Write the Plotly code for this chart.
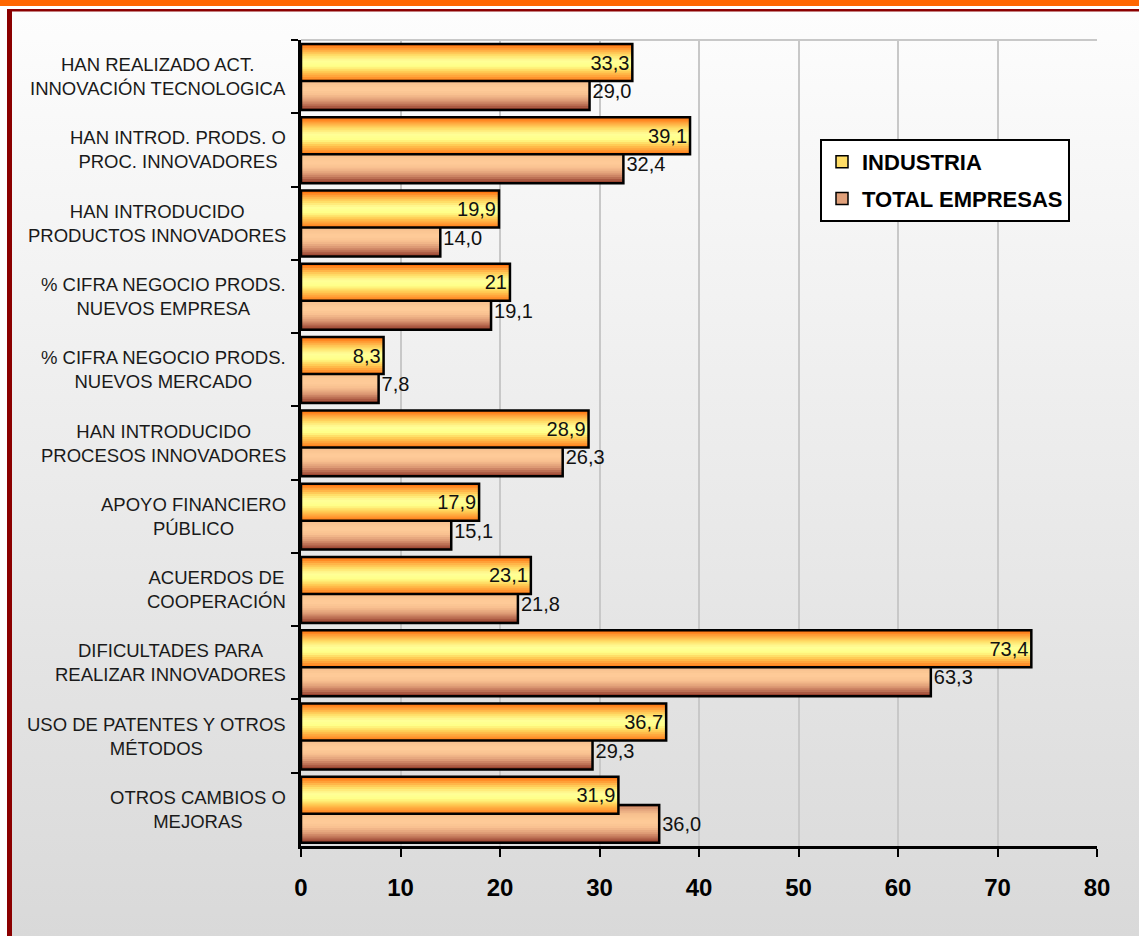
import base64
import plotly.graph_objects as go

categories = [
    "HAN REALIZADO ACT.<br>INNOVACIÓN TECNOLOGICA",
    "HAN INTROD. PRODS. O<br>PROC. INNOVADORES",
    "HAN INTRODUCIDO<br>PRODUCTOS INNOVADORES",
    "% CIFRA NEGOCIO PRODS.<br>NUEVOS EMPRESA",
    "% CIFRA NEGOCIO PRODS.<br>NUEVOS MERCADO",
    "HAN INTRODUCIDO<br>PROCESOS INNOVADORES",
    "APOYO FINANCIERO<br>PÚBLICO",
    "ACUERDOS DE<br>COOPERACIÓN",
    "DIFICULTADES PARA<br>REALIZAR INNOVADORES",
    "USO DE PATENTES Y OTROS<br>MÉTODOS",
    "OTROS CAMBIOS O<br>MEJORAS",
]
industria = [33.3, 39.1, 19.9, 21.0, 8.3, 28.9, 17.9, 23.1, 73.4, 36.7, 31.9]
industria_labels = ["33,3", "39,1", "19,9", "21", "8,3", "28,9", "17,9", "23,1", "73,4", "36,7", "31,9"]
total = [29.0, 32.4, 14.0, 19.1, 7.8, 26.3, 15.1, 21.8, 63.3, 29.3, 36.0]
total_labels = [f"{v:.1f}".replace(".", ",") for v in total]
x_ticks = [0, 10, 20, 30, 40, 50, 60, 70, 80]

W, H = 1139, 936
ML, MR, MT, MB = 301, 42, 40, 90
PW, PH = W - ML - MR, H - MT - MB
FONT = "Arial, Liberation Sans, sans-serif"

yellow_stops = [(0.0, "#ff6600"), (0.12, "#ff9933"), (0.3, "#ffdd66"), (0.45, "#ffff99"),
                (0.6, "#ffff88"), (0.75, "#ffcc55"), (0.9, "#ff9933"), (1.0, "#ff7711")]
brown_stops = [(0.0, "#b06848"), (0.1, "#e0a07a"), (0.25, "#f7c08e"), (0.45, "#ffcc99"),
               (0.6, "#f8c090"), (0.75, "#dd9a75"), (0.88, "#b86a50"), (1.0, "#8b3322")]


def hex2rgb(h):
    h = h.lstrip("#")
    return tuple(int(h[i:i + 2], 16) for i in (0, 2, 4))


def interp(stops, t):
    for (t0, c0), (t1, c1) in zip(stops[:-1], stops[1:]):
        if t0 <= t <= t1:
            f = (t - t0) / (t1 - t0) if t1 > t0 else 0
            a, b = hex2rgb(c0), hex2rgb(c1)
            return "rgb(%d,%d,%d)" % tuple(round(a[k] + (b[k] - a[k]) * f) for k in range(3))
    return stops[-1][1]


fig = go.Figure()

# legend entries
fig.add_trace(go.Bar(x=[None], y=[None], orientation="h", name="INDUSTRIA",
                     marker=dict(color="#ffdd66", line=dict(color="black", width=1.5)),
                     legendgroup="a", showlegend=True))
fig.add_trace(go.Bar(x=[None], y=[None], orientation="h", name="TOTAL EMPRESAS",
                     marker=dict(color="#e0a07a", line=dict(color="black", width=1.5)),
                     legendgroup="b", showlegend=True))

N = 18


def gradient_bar(vals, stops, off, wid):
    h = wid / N
    for i in range(N):
        fig.add_trace(go.Bar(
            x=vals, y=categories, orientation="h",
            offset=off + i * h, width=wid - i * h,
            marker=dict(color=interp(stops, (i + 0.5) / N), line=dict(width=0)),
            showlegend=False, hoverinfo="skip"))


# TOTAL EMPRESAS (behind)
b_off, b_w = -0.06, 0.515
gradient_bar(total, brown_stops, b_off, b_w)
fig.add_trace(go.Bar(
    x=total, y=categories, orientation="h", offset=b_off, width=b_w,
    marker=dict(color="rgba(0,0,0,0)", line=dict(color="black", width=2.5)),
    text=total_labels, textposition="outside", textangle=0,
    textfont=dict(family=FONT, size=20, color="#111"),
    cliponaxis=False, showlegend=False, hoverinfo="skip"))

# INDUSTRIA (front)
y_off, y_w = -0.445, 0.505
gradient_bar(industria, yellow_stops, y_off, y_w)
fig.add_trace(go.Bar(
    x=industria, y=categories, orientation="h", offset=y_off, width=y_w,
    marker=dict(color="rgba(0,0,0,0)", line=dict(color="black", width=2.5)),
    text=industria_labels, textposition="inside", insidetextanchor="end", textangle=0,
    textfont=dict(family=FONT, size=20, color="#111"),
    cliponaxis=False, showlegend=False, hoverinfo="skip"))

# category labels (centered lines)
for c in categories:
    fig.add_annotation(x=-13 / PW, xref="paper", y=c, yref="y", text=c, showarrow=False,
                       xanchor="right", yanchor="middle", align="center",
                       font=dict(family=FONT, size=18.5, color="#1a1a1a"))

svg = f"""<svg xmlns='http://www.w3.org/2000/svg' width='{W}' height='{H}' viewBox='0 0 {W} {H}'>
<defs><linearGradient id='g' x1='0' y1='0' x2='0' y2='1'>
<stop offset='0' stop-color='#fdfdfd'/><stop offset='1' stop-color='#d9d9d9'/></linearGradient></defs>
<rect width='{W}' height='{H}' fill='#ffffff'/>
<rect x='11' y='11' width='{W - 11}' height='{H - 11}' fill='url(#g)'/>
<rect x='0' y='0' width='{W}' height='6' fill='#ff6600'/>
<rect x='7' y='9' width='{W - 7}' height='2.5' fill='#8b0000'/>
<rect x='7' y='9' width='5' height='{H - 9}' fill='#8b0000'/>
</svg>"""
src = "data:image/svg+xml;base64," + base64.b64encode(svg.encode()).decode()

fig.add_layout_image(dict(source=src, xref="paper", yref="paper",
                          x=-ML / PW, y=1 + MT / PH, sizex=W / PW, sizey=H / PH,
                          xanchor="left", yanchor="top", sizing="stretch", layer="below"))

fig.add_shape(type="line", xref="paper", yref="paper", x0=0, x1=1, y0=1, y1=1,
              line=dict(color="#c8c8c8", width=2), layer="below")

fig.update_layout(
    width=W, height=H,
    margin=dict(l=ML, r=MR, t=MT, b=MB, pad=0),
    paper_bgcolor="white", plot_bgcolor="rgba(0,0,0,0)",
    barmode="overlay", hovermode=False,
    font=dict(family=FONT, color="black"),
    legend=dict(x=(820 - ML) / PW, y=1 - (139 - MT) / PH, xanchor="left", yanchor="top",
                bgcolor="white", bordercolor="black", borderwidth=2,
                font=dict(family=FONT, size=22, color="black", weight="bold"),
                traceorder="grouped", tracegroupgap=5, itemwidth=30),
    xaxis=dict(range=[0, 80], tickvals=x_ticks, ticktext=[str(t) for t in x_ticks],
               showgrid=True, gridcolor="#c8c8c8", gridwidth=2, zeroline=False,
               showline=True, linecolor="black", linewidth=2.5,
               ticks="outside", ticklen=8, tickwidth=2, tickcolor="black",
               ticklabelstandoff=10,
               tickfont=dict(family=FONT, size=24, color="black", weight="bold")),
    yaxis=dict(type="category", categoryorder="array", categoryarray=categories,
               range=[10.5, -0.5], showticklabels=False, showgrid=False, zeroline=False,
               showline=True, linecolor="black", linewidth=2.5,
               ticks="outside", ticklen=7, tickwidth=2, tickcolor="black",
               tickson="boundaries"),
)

fig.write_html("out.html", config={"displayModeBar": False},
               post_script="document.body.style.margin='0';document.body.style.overflow='hidden';")
